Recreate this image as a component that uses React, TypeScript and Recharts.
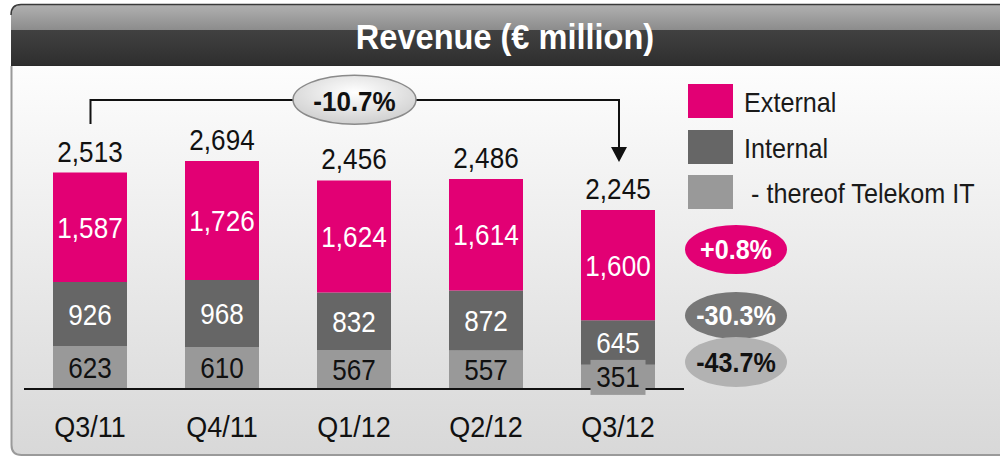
import React from 'react';
import { BarChart, Bar, XAxis, YAxis, LabelList } from 'recharts';

const categories = ['Q3/11', 'Q4/11', 'Q1/12', 'Q2/12', 'Q3/12'];
const externalValues = [1587, 1726, 1624, 1614, 1600];
const internalValues = [926, 968, 832, 872, 645];
const telekomITValues = [623, 610, 567, 557, 351];
const totalValues = [2513, 2694, 2456, 2486, 2245];

const legendLabels = ['External', 'Internal', ' - thereof Telekom IT'];
const changeLabels = ['+0.8%', '-30.3%', '-43.7%'];
const totalChangeLabel = '-10.7%';
const titleText = 'Revenue (€ million)';

const MAGENTA = '#E20074';
const DARK = '#666666';
const LIGHT = '#999999';
const FONT = '"Liberation Sans", Arial, sans-serif';
const NUM_SIZE = 29;
const SX = 0.9;

const data = categories.map((c, i) => ({
  name: c,
  external: externalValues[i],
  internal: internalValues[i],
  it: telekomITValues[i],
  total: totalValues[i],
}));

const fmt = (v: any) => Number(v).toLocaleString('en-US');

const SText = (props: any) => {
  const { x, y, sx = SX, children, ...rest } = props;
  return (
    <text
      transform={`translate(${x},${y}) scale(${sx},1)`}
      x={0}
      y={0}
      fontFamily={FONT}
      style={{ whiteSpace: 'pre' }}
      {...rest}
    >
      {children}
    </text>
  );
};

const centerLabel = (color: string, boxFill?: string) => (p: any) => {
  const { x, y, width, height, value, index } = p;
  const cx = Number(x) + Number(width) / 2;
  const cy = Number(y) + Number(height) / 2;
  const small = Number(height) < 30;
  return (
    <g key={`lbl-${color}-${index}`}>
      {small && boxFill ? (
        <rect x={cx - 27.5} y={cy - 17} width={55} height={35} fill={boxFill} />
      ) : null}
      <SText x={cx} y={cy} dy="0.36em" textAnchor="middle" fill={color} fontSize={NUM_SIZE}>
        {fmt(value)}
      </SText>
    </g>
  );
};

const totalLabel = (p: any) => {
  const { x, y, width, value, index } = p;
  const cx = Number(x) + Number(width) / 2;
  return (
    <SText key={`tot-${index}`} x={cx} y={Number(y) - 11} textAnchor="middle" fill="#111" fontSize={NUM_SIZE}>
      {fmt(value)}
    </SText>
  );
};

const CategoryTick = (p: any) => {
  const { x, payload } = p;
  return (
    <SText x={x} y={437} textAnchor="middle" fill="#111" fontSize={30}>
      {payload.value}
    </SText>
  );
};

export default function App() {
  const legendColors = [MAGENTA, DARK, LIGHT];
  const legendY = [84, 130, 175];
  const ellipseFills = [MAGENTA, '#777777', '#b2b2b2'];
  const ellipseText = ['#ffffff', '#ffffff', '#111111'];
  const ellipseY = [249.5, 315.5, 362];
  const ellipseRy = [24.5, 23.5, 25];
  return (
    <div style={{ position: 'relative', width: 1000, height: 457, overflow: 'hidden', background: '#fff' }}>
      <style>{`body{margin:0}`}</style>
      <svg width={1000} height={457} style={{ position: 'absolute', left: 0, top: 0 }}>
        <defs>
          <linearGradient id="bodyGrad" x1="0" y1="0" x2="0" y2="1">
            <stop offset="0%" stopColor="#fdfdfd" />
            <stop offset="100%" stopColor="#d8d8d8" />
          </linearGradient>
          <linearGradient id="titleTop" x1="0" y1="0" x2="0" y2="1">
            <stop offset="0%" stopColor="#b0b0b0" />
            <stop offset="100%" stopColor="#8c8c8c" />
          </linearGradient>
          <linearGradient id="titleBottom" x1="0" y1="0" x2="0" y2="1">
            <stop offset="0%" stopColor="#4e4e4e" />
            <stop offset="100%" stopColor="#2e2e2e" />
          </linearGradient>
        </defs>
        <path d="M 11 66 V 445 Q 11 455 21 455 H 1010 V 66 Z" fill="url(#bodyGrad)" />
        <path d="M 11.5 66 V 445 Q 11.5 455 21.5 455 H 1010" fill="none" stroke="#9a9a9a" strokeWidth={2} />
        <path d="M 11 66 V 15 Q 11 5 21 5 H 1010 V 66 Z" fill="url(#titleBottom)" />
        <path d="M 11 30 V 15 Q 11 5 21 5 H 1010 V 30 Z" fill="url(#titleTop)" />
        <path d="M 11 15 Q 11 4.5 21 4.5 H 1010" fill="none" stroke="#3a3a3a" strokeWidth={1.5} />
        <line x1={11} y1={65.5} x2={1000} y2={65.5} stroke="#2a2a2a" strokeWidth={1} />
        <SText x={505} y={49} sx={0.93} textAnchor="middle" fill="#ffffff" fontWeight="bold" fontSize={35}>
          {titleText}
        </SText>
      </svg>
      <div style={{ position: 'absolute', left: 0, top: 0 }}>
        <BarChart
          width={1000}
          height={457}
          data={data}
          margin={{ top: 113, right: 316, bottom: 0, left: 24 }}
          barSize={74}
        >
          <XAxis
            dataKey="name"
            height={68}
            tickLine={false}
            axisLine={{ stroke: '#111', strokeWidth: 2 }}
            tick={CategoryTick}
            interval={0}
          />
          <YAxis hide domain={[0, 4000]} />
          <Bar dataKey="it" stackId="a" fill={LIGHT} isAnimationActive={false}>
            <LabelList dataKey="it" content={centerLabel('#111', LIGHT)} />
          </Bar>
          <Bar dataKey="internal" stackId="a" fill={DARK} isAnimationActive={false}>
            <LabelList dataKey="internal" content={centerLabel('#ffffff')} />
          </Bar>
          <Bar dataKey="external" stackId="a" fill={MAGENTA} isAnimationActive={false}>
            <LabelList dataKey="external" content={centerLabel('#ffffff')} />
            <LabelList dataKey="total" content={totalLabel} />
          </Bar>
        </BarChart>
      </div>
      <svg width={1000} height={457} style={{ position: 'absolute', left: 0, top: 0, pointerEvents: 'none' }}>
        <defs>
          <radialGradient id="pillGrad" cx="50%" cy="35%" r="65%">
            <stop offset="0%" stopColor="#ffffff" />
            <stop offset="100%" stopColor="#cfcfcf" />
          </radialGradient>
        </defs>
        <polyline points="90.5,124 90.5,100 619,100 619,150" fill="none" stroke="#111" strokeWidth={2} />
        <polygon points="611,147 627,147 619,162" fill="#111" />
        <ellipse cx={354.5} cy={99.7} rx={61.5} ry={24.5} fill="url(#pillGrad)" stroke="#8a8a8a" strokeWidth={1.5} />
        <SText x={354.5} y={111} sx={0.93} textAnchor="middle" fill="#111" fontWeight="bold" fontSize={28}>
          {totalChangeLabel}
        </SText>
        {legendLabels.map((l, i) => (
          <g key={l}>
            <rect x={688} y={legendY[i]} width={45} height={34} fill={legendColors[i]} />
            <SText x={744} y={legendY[i] + 28} fill="#1a1a1a" fontSize={28}>
              {l}
            </SText>
          </g>
        ))}
        {changeLabels.map((c, i) => (
          <g key={c}>
            <ellipse cx={736} cy={ellipseY[i]} rx={51} ry={ellipseRy[i]} fill={ellipseFills[i]} />
            <SText
              x={736}
              y={ellipseY[i]}
              sx={0.93}
              dy="0.36em"
              textAnchor="middle"
              fill={ellipseText[i]}
              fontWeight="bold"
              fontSize={27}
            >
              {c}
            </SText>
          </g>
        ))}
      </svg>
    </div>
  );
}
